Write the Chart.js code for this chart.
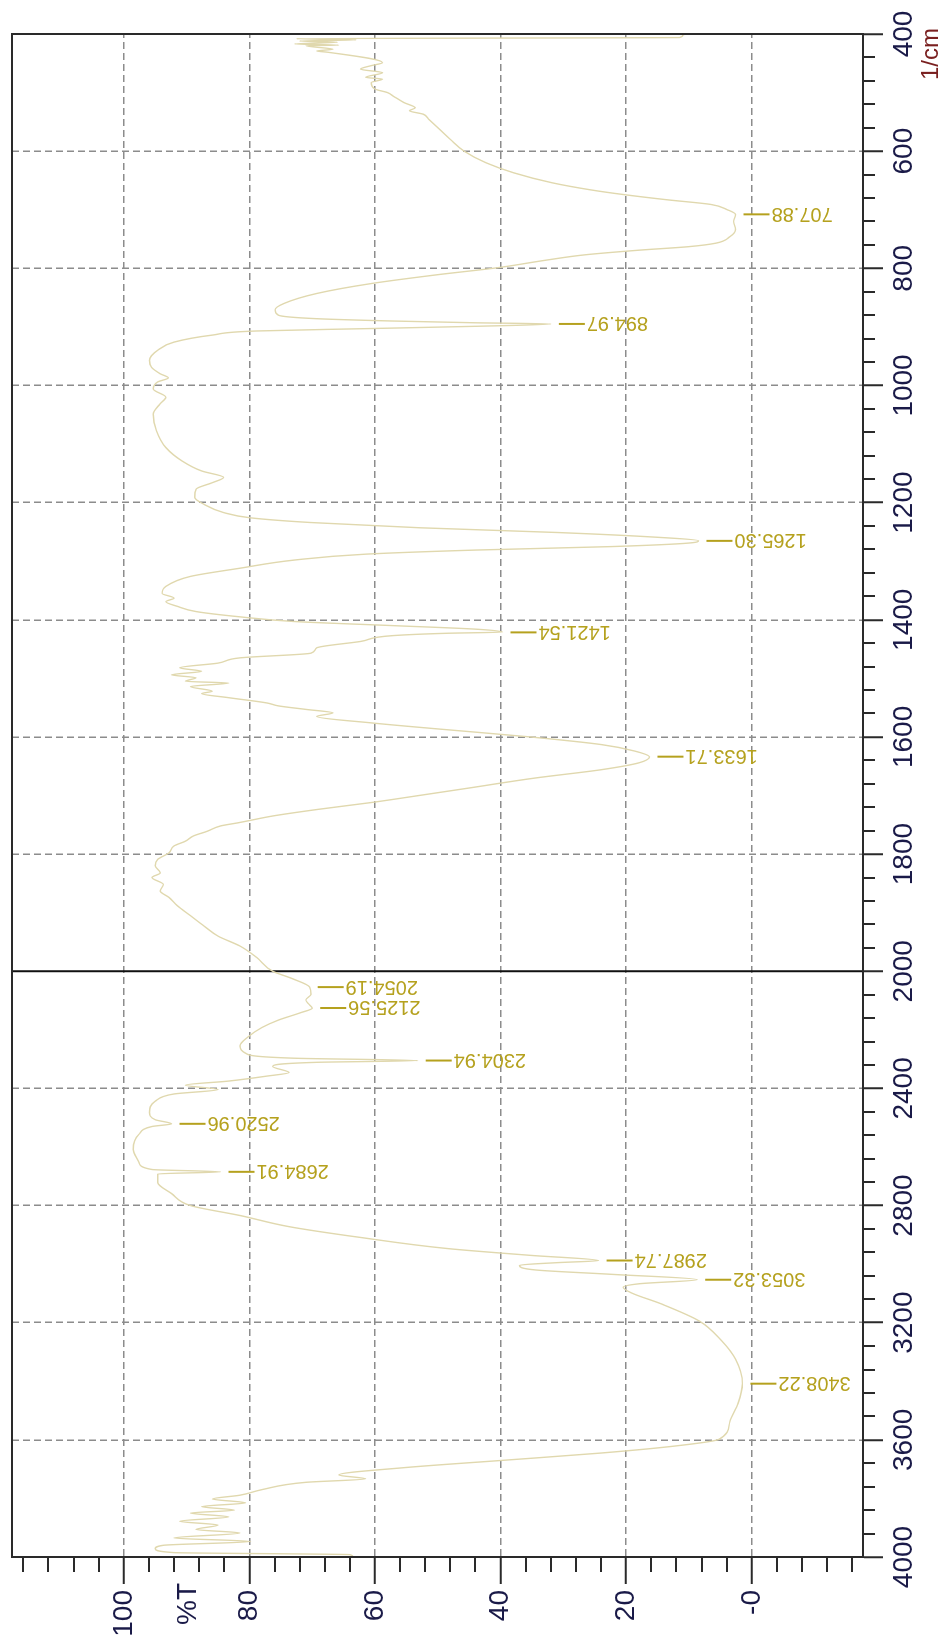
<!DOCTYPE html>
<html>
<head>
<meta charset="utf-8">
<script src="https://cdn.jsdelivr.net/npm/chart.js@4/dist/chart.umd.min.js"></script>
<style>
  html, body { margin: 0; padding: 0; background: #fff; overflow: hidden; }
  #wrap { position: relative; width: 948px; height: 1637px; overflow: hidden; }
  #spectrum {
    position: absolute; left: 0; top: 0;
    transform-origin: 0 0;
    transform: translate(0, 1637px) rotate(-90deg);
  }
</style>
</head>
<body>
<div id="wrap"><canvas id="spectrum" width="1637" height="948"></canvas></div>
<script>
// wavenumber (1/cm) and transmittance (%T)
const wavenumbers = [
  400, 402, 406, 408, 410, 412, 414, 417, 419, 420, 426, 429, 431, 449, 454, 460, 466, 474, 477, 483,
  494, 500, 506, 517, 526, 531, 537, 546, 563, 580, 600, 620, 637, 654, 666, 674, 683, 691, 700, 708,
  720, 734, 746, 757, 763, 769, 777, 786, 799, 811, 826, 843, 860, 871, 880, 886, 890, 893, 895, 899,
  903, 907, 914, 926, 940, 957, 969, 980, 987, 994, 1006, 1020, 1031, 1049, 1077, 1106, 1129, 1146, 1157, 1166,
  1177, 1191, 1203, 1217, 1226, 1234, 1243, 1251, 1259, 1265, 1269, 1275, 1281, 1288, 1298, 1312, 1326, 1343, 1355, 1363,
  1369, 1377, 1386, 1395, 1403, 1410, 1416, 1421, 1423, 1427, 1437, 1448, 1457, 1465, 1474, 1482, 1488, 1494, 1499, 1505,
  1508, 1514, 1522, 1526, 1533, 1542, 1547, 1553, 1559, 1565, 1576, 1587, 1600, 1613, 1624, 1634, 1644, 1656, 1670, 1687,
  1701, 1712, 1724, 1735, 1746, 1752, 1761, 1769, 1778, 1786, 1798, 1809, 1820, 1832, 1840, 1852, 1863, 1874, 1888, 1905,
  1923, 1940, 1957, 1976, 2000, 2025, 2054, 2079, 2098, 2111, 2126, 2142, 2167, 2192, 2224, 2255, 2280, 2297, 2305, 2311,
  2325, 2346, 2358, 2375, 2389, 2404, 2419, 2444, 2482, 2507, 2521, 2530, 2557, 2608, 2652, 2677, 2685, 2692, 2721, 2759,
  2800, 2834, 2872, 2909, 2947, 2970, 2988, 2995, 3004, 3020, 3035, 3053, 3067, 3079, 3098, 3136, 3195, 3262, 3325, 3408,
  3476, 3538, 3598, 3620, 3645, 3670, 3695, 3720, 3733, 3745, 3770, 3789, 3802, 3815, 3828, 3840, 3850, 3863, 3878, 3891,
  3906, 3918, 3935, 3947, 3960, 3972, 3985, 3992, 4000
];
const transmittance = [
  10.5, 11, 11.5, 72.5, 63, 72, 66, 72.8, 65.8, 71, 66.7, 69.3, 67.6, 58.8, 60.6, 62.3, 58.8, 61.5, 58.8, 60.6,
  60, 58, 57.1, 55.4, 53.6, 54.5, 52.3, 51.4, 49.7, 48, 45.8, 42.3, 37.9, 31.8, 25.7, 20.5, 13.5, 6.5, 3.9, 2.6,
  2.9, 2.6, 3.5, 5.7, 10, 17.9, 26.6, 32.7, 40.5, 50.1, 60.6, 69.3, 74.5, 75.9, 75.4, 69.3, 57.1, 44, 32, 44,
  61.5, 78.9, 85.9, 92, 94.6, 95.9, 95.6, 94.2, 92.9, 94.6, 95.3, 93.3, 94.2, 95.3, 94.8, 93.3, 90.7, 87.6, 84.1, 85.9,
  88.5, 88.7, 87.2, 84.1, 79.8, 70.2, 52.7, 31, 15.3, 8.5, 10, 22.2, 44, 61.5, 72.8, 81.5, 89.4, 93.3, 93.9, 92,
  93.3, 91.5, 88.5, 81.5, 72.8, 57.1, 44, 39.7, 48.4, 57.1, 62.3, 69.3, 70.2, 81.5, 85, 91.1, 87.6, 92.4, 88.5, 90.2,
  83.3, 89.4, 85.9, 87.6, 83.3, 77.2, 75.4, 71, 66.7, 69.3, 60.6, 49.3, 35.3, 24, 18.7, 16.3, 17.9, 24, 34.4, 44.9,
  53.6, 60.6, 69.3, 76.3, 81.5, 84.6, 86.7, 88.9, 90.2, 92, 92.8, 94.6, 95, 94.2, 95.5, 93.7, 94.2, 92.8, 91.5, 89.4,
  87.2, 85, 81.5, 78.9, 76.3, 73.2, 70.4, 70.2, 71, 70.6, 70, 71.9, 75.4, 78, 80.2, 81.5, 80.6, 72.8, 53.2, 69.3,
  76.3, 73.7, 77.2, 83.3, 90.2, 85, 92, 95, 95.9, 95, 92.4, 95.5, 97.6, 98.5, 97.6, 95.5, 84.6, 94.6, 94.6, 92.4,
  89.4, 81.5, 73.7, 62.3, 48.4, 35.3, 24.4, 31, 37, 34.4, 22.2, 8.7, 17.9, 20.5, 19.2, 14.4, 8.3, 4.8, 2.6, 1.5,
  2.2, 3.5, 5.2, 11.8, 24, 39.7, 55.4, 65.8, 61.5, 71, 78, 81.5, 85.9, 80.6, 87.6, 82.4, 89.4, 83.3, 91.1, 85,
  88.5, 81.5, 92, 79.8, 93.7, 95, 92, 64, 63.5
];

// labelled peaks
const peakWavenumbers = [707.88, 894.97, 1265.30, 1421.54, 1633.71, 2054.19, 2125.56, 2304.94, 2520.96, 2684.91, 2987.74, 3053.32, 3408.22];
const peakTransmittance = [2.6, 32, 8.5, 39.7, 16.3, 70.4, 70, 53.2, 92.4, 84.6, 24.4, 8.7, 1.5];

const percentTicks = [0, 20, 40, 60, 80, 100];

// above 2000 1/cm the printout uses half the scale
function toAxis(wn) {
  return wn <= 2000 ? wn : 2000 + (wn - 2000) / 2;
}
function fromAxis(u) {
  return u <= 2000 ? u : 2000 + (u - 2000) * 2;
}

const FONT = '"Liberation Sans", Arial, sans-serif';
const LABEL_COLOR = '#1a1a48';
const PEAK_COLOR = '#b5a11e';

const spectrumDecor = {
  id: 'spectrumDecor',
  beforeDatasetsDraw(chart) {
    const { ctx, chartArea: { top, bottom }, scales: { x } } = chart;
    // scale break at 2000
    const bx = x.getPixelForValue(2000);
    ctx.save();
    ctx.strokeStyle = '#111';
    ctx.lineWidth = 2;
    ctx.beginPath();
    ctx.moveTo(bx, top);
    ctx.lineTo(bx, bottom);
    ctx.stroke();
    ctx.restore();
  },
  afterDatasetsDraw(chart) {
    const { ctx, chartArea: { left, top, right, bottom }, scales: { x, y } } = chart;
    ctx.save();
    // frame
    ctx.strokeStyle = '#2a2a2a';
    ctx.lineWidth = 2;
    ctx.strokeRect(left, top, right - left, bottom - top);

    // minor ticks
    ctx.lineWidth = 2;
    ctx.beginPath();
    for (let u = 440; u < 3000; u += 40) {
      if (u % 200 === 0) continue;
      const px = Math.round(x.getPixelForValue(u));
      ctx.moveTo(px, bottom);
      ctx.lineTo(px, bottom + 12);
    }
    for (let v = -16; v <= 116; v += 4) {
      if (v % 20 === 0) continue;
      const py = Math.round(y.getPixelForValue(v));
      ctx.moveTo(left - 15, py);
      ctx.lineTo(left, py);
    }
    ctx.stroke();

    // peak markers
    ctx.strokeStyle = PEAK_COLOR;
    ctx.fillStyle = PEAK_COLOR;
    ctx.lineWidth = 2;
    ctx.font = '20px ' + FONT;
    peakWavenumbers.forEach((wn, i) => {
      const px = x.getPixelForValue(toAxis(wn));
      const py = y.getPixelForValue(peakTransmittance[i]);
      ctx.beginPath();
      ctx.moveTo(px, py + 8);
      ctx.lineTo(px, py + 34);
      ctx.stroke();
      ctx.save();
      ctx.translate(px, py + 36);
      ctx.rotate(-Math.PI / 2);
      ctx.textAlign = 'right';
      ctx.textBaseline = 'middle';
      ctx.fillText(wn.toFixed(2), 0, 1);
      ctx.restore();
    });

    // axis titles
    ctx.fillStyle = LABEL_COLOR;
    ctx.font = '28px ' + FONT;
    ctx.textAlign = 'left';
    ctx.textBaseline = 'middle';
    ctx.fillText('%T', 12, y.getPixelForValue(89.8));
    ctx.fillStyle = '#7a2020';
    ctx.font = '24px ' + FONT;
    ctx.textAlign = 'right';
    ctx.fillText('1/cm', right + 6, bottom + 68);
    ctx.restore();
  },
};

const points = wavenumbers.map((wn, i) => ({ x: toAxis(wn), y: transmittance[i] }));

new Chart(document.getElementById('spectrum'), {
  type: 'line',
  data: {
    datasets: [
      {
        data: points,
        borderColor: '#e0d8ae',
        borderWidth: 1.4,
        pointRadius: 0,
        cubicInterpolationMode: 'monotone',
        fill: false,
      },
    ],
  },
  options: {
    responsive: false,
    animation: false,
    devicePixelRatio: 1,
    layout: { padding: { top: 12, right: 34, left: 0, bottom: 0 } },
    plugins: {
      legend: { display: false },
      tooltip: { enabled: false },
    },
    scales: {
      x: {
        type: 'linear',
        reverse: true,
        min: 400,
        max: 3000,
        afterFit(scale) {
          scale.height = 85;
          scale.paddingLeft = 0;
          scale.paddingRight = 0;
        },
        ticks: {
          stepSize: 200,
          autoSkip: false,
          maxRotation: 0,
          padding: 4,
          color: LABEL_COLOR,
          font: { family: FONT, size: 28 },
          callback: (u) => String(fromAxis(u)),
        },
        grid: {
          color: (c) => (c.tick && (c.tick.value === 2000 || c.tick.value === 400 || c.tick.value === 3000) ? 'rgba(0,0,0,0)' : '#8c8c8c'),
          lineWidth: 1.5,
          tickLength: 20,
          tickColor: '#2a2a2a',
          tickWidth: 2,
          tickBorderDash: [],
        },
        border: { display: true, color: '#2a2a2a', width: 2, dash: [7, 4] },
      },
      y: {
        type: 'linear',
        min: -17.7,
        max: 117.8,
        afterFit(scale) {
          scale.width = 80;
          scale.paddingTop = 0;
          scale.paddingBottom = 0;
        },
        afterBuildTicks(scale) { scale.ticks = percentTicks.map((v) => ({ value: v })); },
        ticks: {
          padding: 6,
          color: LABEL_COLOR,
          font: { family: FONT, size: 28 },
          callback: (v) => (v === 0 ? '-0' : String(v)),
        },
        grid: {
          color: '#8c8c8c',
          lineWidth: 1.5,
          tickLength: 27,
          tickColor: '#2a2a2a',
          tickWidth: 2,
          tickBorderDash: [],
        },
        border: { display: true, color: '#2a2a2a', width: 2, dash: [7, 4] },
      },
    },
  },
  plugins: [spectrumDecor],
});
</script>
</body>
</html>
